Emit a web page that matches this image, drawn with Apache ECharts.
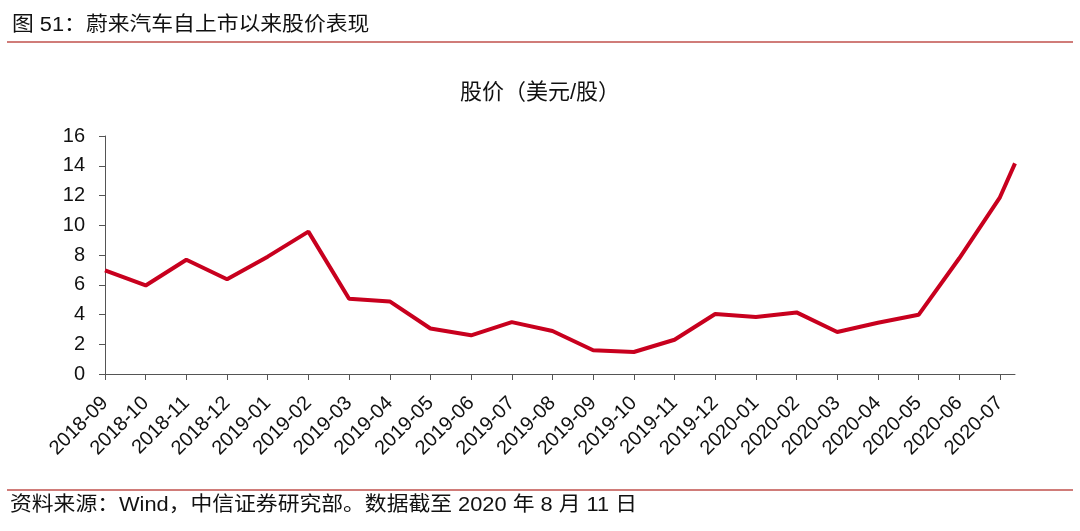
<!DOCTYPE html>
<html>
<head>
<meta charset="utf-8">
<script src="https://cdn.jsdelivr.net/npm/echarts@6/dist/echarts.min.js"></script>
<style>
html,body{margin:0;padding:0;background:#fff;}
#c{width:1080px;height:531px;}
</style>
</head>
<body>
<div id="c"></div>
<script>
var categories = ['2018-09','2018-10','2018-11','2018-12','2019-01','2019-02','2019-03','2019-04','2019-05','2019-06','2019-07','2019-08','2019-09','2019-10','2019-11','2019-12','2020-01','2020-02','2020-03','2020-04','2020-05','2020-06','2020-07'];
var prices = [6.97, 5.95, 7.68, 6.37, 7.89, 9.57, 5.06, 4.88, 3.06, 2.6, 3.49, 2.89, 1.6, 1.48, 2.3, 4.03, 3.83, 4.14, 2.82, 3.45, 3.98, 7.78, 11.88];
var lastPointPos = 22.37;   // 2020-08-11, partial month beyond the last label
var lastPrice = 14.16;
var yTicks = [0, 2, 4, 6, 8, 10, 12, 14, 16];

var FONT = '"Liberation Sans", Arial, "Noto Sans CJK SC", sans-serif';
var seriesData = prices.map(function (v, i) { return [i, v]; });
seriesData.push([lastPointPos, lastPrice]);

var chart = echarts.init(document.getElementById('c'));
chart.setOption({
  animation: false,
  backgroundColor: '#fff',
  textStyle: { fontFamily: FONT },
  title: {
    text: '股价（美元/股）',
    left: 'center',
    top: 77,
    textStyle: { fontSize: 22, fontWeight: 'normal', color: '#111', fontFamily: FONT }
  },
  graphic: [
    { type: 'text', x: 12, y: 15, scaleX: 1.09,
      style: { text: '图 51：蔚来汽车自上市以来股价表现', fill: '#111', verticalAlign: 'top', textVerticalAlign: 'top',
               font: '20px "Liberation Sans", "Noto Sans CJK SC", sans-serif' } },
    { type: 'line', shape: { x1: 7, y1: 42, x2: 1073, y2: 42 }, style: { stroke: '#c0504d', lineWidth: 1.5 } },
    { type: 'line', shape: { x1: 7, y1: 490, x2: 1073, y2: 490 }, style: { stroke: '#c0504d', lineWidth: 1.5 } },
    { type: 'text', x: 10, y: 495, scaleX: 1.09,
      style: { text: '资料来源：Wind，中信证券研究部。数据截至 2020 年 8 月 11 日', fill: '#111', verticalAlign: 'top', textVerticalAlign: 'top',
               font: '20px "Liberation Sans", "Noto Sans CJK SC", sans-serif' } }
  ],
  grid: { left: 105, right: 65, top: 136, bottom: 157, containLabel: false },
  xAxis: {
    type: 'value',
    min: 0,
    max: lastPointPos,
    interval: 1,
    splitLine: { show: false },
    axisLine: { show: true, onZero: false, lineStyle: { color: '#555', width: 1 } },
    axisTick: { show: true, length: 6, lineStyle: { color: '#555' } },
    axisLabel: {
      rotate: 45,
      fontSize: 20,
      color: '#111',
      margin: 26,
      showMaxLabel: false,
      formatter: function (v) {
        return (Math.abs(v - Math.round(v)) < 1e-6 && categories[Math.round(v)]) ? categories[Math.round(v)] : '';
      }
    }
  },
  yAxis: {
    type: 'value',
    min: yTicks[0],
    max: yTicks[yTicks.length - 1],
    interval: yTicks[1] - yTicks[0],
    splitLine: { show: false },
    axisLine: { show: true, lineStyle: { color: '#555', width: 1 } },
    axisTick: { show: true, length: 6, lineStyle: { color: '#555' } },
    axisLabel: { fontSize: 20, color: '#111', margin: 20 }
  },
  series: [{
    type: 'line',
    data: seriesData,
    symbol: 'none',
    lineStyle: { color: '#c8001e', width: 4 },
    itemStyle: { color: '#c8001e' }
  }]
});
</script>
</body>
</html>
